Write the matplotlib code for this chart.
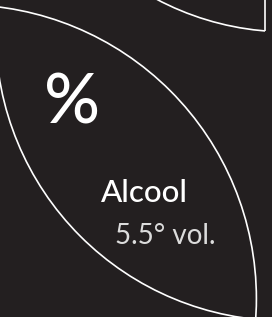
import matplotlib
matplotlib.use('Agg')
import matplotlib.pyplot as plt
from matplotlib.patches import Circle, Rectangle

# label content
symbol = '%'
label_name = 'Alcool'
abv_value = 5.5
abv_unit = '° vol.'

BG = '#231f20'
FG = '#ffffff'

W, H = 272, 317
fig = plt.figure(figsize=(W/100., H/100.), dpi=100, facecolor=BG)
ax = fig.add_axes([0, 0, 1, 1])
ax.set_facecolor(BG)
ax.set_xlim(0, W)
ax.set_ylim(H, 0)
ax.axis('off')

# leaf outline: two circles, the canvas crops them into a lens
upper = Circle((-37.6, 298.7), 294., fill=False, ec=FG, lw=1.2)
lower = Circle((284.6, 31.8), 289., fill=False, ec=FG, lw=1.2)
ax.add_patch(upper)
ax.add_patch(lower)

# second leaf peeking in at the top right
corner = Circle((288., -248.7), 280.6, fill=False, ec=FG, lw=1.2)
ax.add_patch(corner)
corner.set_clip_path(Rectangle((0, 0), 265, H, transform=ax.transData))
ax.plot([265, 265], [0, 31], color=FG, lw=1.2, solid_capstyle='butt')

ax.text(72, 104, symbol, color=FG, fontsize=50, family='Lato', weight='medium',
		ha='center', va='center')
ax.text(101, 202, label_name, color=FG, fontsize=22.5, family='Lato', weight='medium',
		ha='left', va='baseline')
ax.text(115, 244, '%g%s' % (abv_value, abv_unit), color='#dcdcdc', fontsize=20,
		family='Lato', weight='normal', ha='left', va='baseline')

fig.savefig('out.png', dpi=100, facecolor=BG)
